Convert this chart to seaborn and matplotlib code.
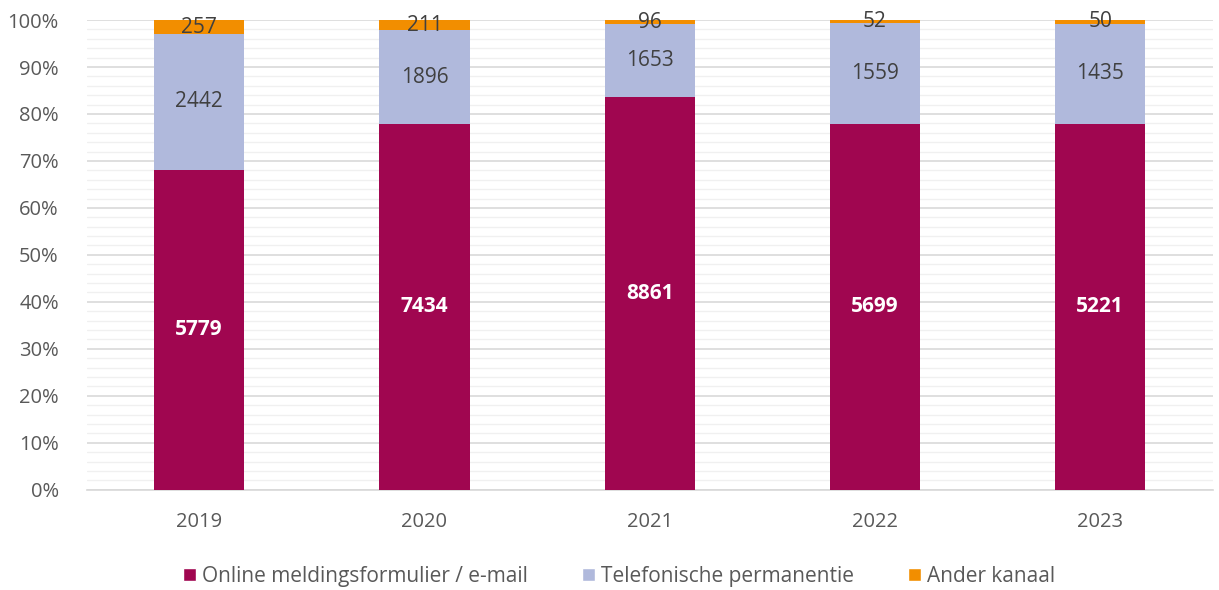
import numpy as np
import pandas as pd
import matplotlib
matplotlib.use("Agg")
import matplotlib.pyplot as plt
import seaborn as sns
from matplotlib.patches import Patch
from matplotlib.ticker import MultipleLocator, PercentFormatter

years = ["2019", "2020", "2021", "2022", "2023"]
online = [5779, 7434, 8861, 5699, 5221]
telefoon = [2442, 1896, 1653, 1559, 1435]
ander = [257, 211, 96, 52, 50]

series_names = ["Online meldingsformulier / e-mail", "Telefonische permanentie", "Ander kanaal"]
colors = ["#A00650", "#B0B9DC", "#F28E00"]

sns.set_theme(style="white")
plt.rcParams["font.family"] = ["Open Sans", "DejaVu Sans"]

df = pd.DataFrame({"year": years, "online": online, "telefoon": telefoon, "ander": ander})
totals = df[["online", "telefoon", "ander"]].sum(axis=1)
pct = df[["online", "telefoon", "ander"]].div(totals, axis=0) * 100

fig, ax = plt.subplots(figsize=(12.19, 5.9), dpi=100)
fig.subplots_adjust(left=0.071, right=0.995, top=0.966, bottom=0.17)

# stacked: draw cumulative heights, tallest first
cum = pct.cumsum(axis=1)
for i, col in reversed(list(enumerate(["online", "telefoon", "ander"]))):
    sns.barplot(x=df["year"], y=cum[col].values, color=colors[i], width=0.4,
                saturation=1, ax=ax, errorbar=None)

for patch in ax.patches:
    patch.set_edgecolor("none")
    patch.set_zorder(3)

bottoms = np.zeros(len(years))
for i, col in enumerate(["online", "telefoon", "ander"]):
    vals = pct[col].values
    raw = df[col].values
    for j in range(len(years)):
        y = bottoms[j] + vals[j] / 2
        if i == 0:
            ax.text(j, y, str(raw[j]), ha="center", va="center", color="white",
                    fontsize=15, fontweight="bold", zorder=10)
        else:
            ax.text(j, y, str(raw[j]), ha="center", va="center", color="#404040",
                    fontsize=15, zorder=10)
    bottoms += vals

ax.set_ylim(0, 100)
ax.set_xlim(-0.5, 4.5)
ax.yaxis.set_major_locator(MultipleLocator(10))
ax.yaxis.set_minor_locator(MultipleLocator(2))
ax.yaxis.set_major_formatter(PercentFormatter(decimals=0))
ax.grid(axis="y", which="major", color="#D9D9D9", linewidth=1.2, zorder=0)
ax.grid(axis="y", which="minor", color="#F0F0F0", linewidth=1.0, zorder=0)
ax.set_axisbelow(True)
for s in ["top", "right", "left"]:
    ax.spines[s].set_visible(False)
ax.spines["bottom"].set_color("#D9D9D9")
ax.tick_params(axis="both", which="both", length=0, labelsize=14.5, labelcolor="#595959")
ax.tick_params(axis="x", pad=16)
ax.tick_params(axis="y", pad=20)
ax.set_xlabel("")
ax.set_ylabel("")

handles = [Patch(facecolor=c, label=n) for c, n in zip(colors, series_names)]
leg = fig.legend(handles=handles, loc="lower center", bbox_to_anchor=(0.508, -0.026),
                 ncol=3, frameon=False, fontsize=15, handlelength=0.6, handleheight=0.6,
                 columnspacing=2.6, handletextpad=0.3)
for t in leg.get_texts():
    t.set_color("#595959")

fig.savefig("out.png", dpi=100)
